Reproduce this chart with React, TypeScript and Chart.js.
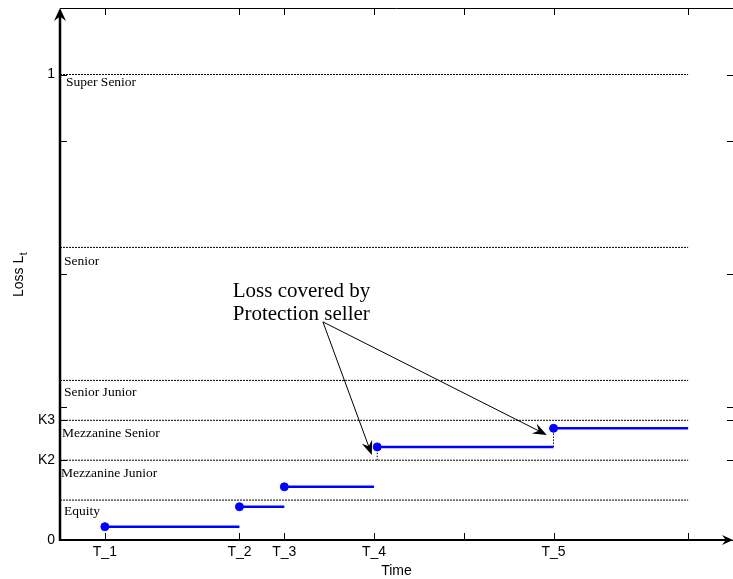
import React, { useEffect, useRef } from 'react';
import { Chart, registerables } from 'chart.js';

Chart.register(...registerables);

// ---------------- data ----------------
const timeTicks = [1, 4, 5, 7, 9, 11, 14];
const timeTickLabels = ['T_1', 'T_2', 'T_3', 'T_4', '', 'T_5', ''];
const lossTicks = [0, 0.6, 0.9, 1, 2, 3, 3.5];
const lossTickLabels = ['0', 'K2', 'K3', '', '', '', '1'];

const trancheNames = ['Super Senior', 'Senior', 'Senior Junior', 'Mezzanine Senior', 'Mezzanine Junior', 'Equity'];
const trancheUpper = [3.5, 2.2, 1.2, 0.9, 0.6, 0.3];
const trancheLineEnd = 14;

const stepStart = [1, 4, 5, 7.07, 11];
const stepEnd = [4, 5, 7, 11, 14];
const stepLoss = [0.1, 0.25, 0.4, 0.7, 0.84];

const jumpTime = [7.07, 11];
const jumpLow = [0.6, 0.7];
const jumpHigh = [0.7, 0.84];

const calloutLines = ['Loss covered by', 'Protection seller'];
const calloutAt = [3.85, 1.83];
const arrowTail = [5.86, 1.64];
const arrowTipX = [6.95, 10.85];
const arrowTipY = [0.64, 0.79];

const xRange = [0, 15];
const yRange = [0, 4];

// ---------------- styles ----------------
const SANS = '"Liberation Sans", Arial, sans-serif';
const SERIF = '"Liberation Serif", "Times New Roman", serif';
const BLUE = '#0000ff';
const trancheLabelDx = [6, 4, 4, 2, 1, 4];
const trancheLabelDy = [8, 14, 12.5, 13, 13, 11];

function arrowHead(ctx: CanvasRenderingContext2D, tx: number, ty: number, ux: number, uy: number, len: number, wid: number) {
  const nx = -uy, ny = ux;
  const bx = tx - ux * len, by = ty - uy * len;
  ctx.beginPath();
  ctx.moveTo(tx, ty);
  ctx.lineTo(bx + nx * wid / 2, by + ny * wid / 2);
  ctx.lineTo(tx - ux * len * 0.65, ty - uy * len * 0.65);
  ctx.lineTo(bx - nx * wid / 2, by - ny * wid / 2);
  ctx.closePath();
  ctx.fill();
}

const overlayPlugin = {
  id: 'overlay',
  afterDraw(chart: any) {
    const { ctx, chartArea: ca, scales } = chart;
    const xs = scales.x, ys = scales.y;
    ctx.save();
    ctx.strokeStyle = '#000';
    ctx.fillStyle = '#000';
    ctx.setLineDash([]);

    // top border
    ctx.lineWidth = 1;
    ctx.beginPath();
    ctx.moveTo(ca.left, ca.top + 0.5);
    ctx.lineTo(ca.right, ca.top + 0.5);
    ctx.stroke();

    // ticks (inward) on all sides
    ctx.lineWidth = 1;
    for (const v of timeTicks) {
      const px = Math.round(xs.getPixelForValue(v)) + 0.5;
      ctx.beginPath();
      ctx.moveTo(px, ca.bottom);
      ctx.lineTo(px, ca.bottom - 7);
      ctx.moveTo(px, ca.top);
      ctx.lineTo(px, ca.top + 7);
      ctx.stroke();
    }
    for (const v of lossTicks) {
      const py = Math.round(ys.getPixelForValue(v)) + 0.5;
      ctx.beginPath();
      ctx.moveTo(ca.left, py);
      ctx.lineTo(ca.left + 7, py);
      ctx.moveTo(ca.right, py);
      ctx.lineTo(ca.right - 6, py);
      ctx.stroke();
    }

    // left axis with arrow
    ctx.lineWidth = 2.5;
    ctx.beginPath();
    ctx.moveTo(ca.left, ca.bottom + 1);
    ctx.lineTo(ca.left, ca.top + 8);
    ctx.stroke();
    arrowHead(ctx, ca.left, ca.top, 0, -1, 13, 12);

    // bottom axis with arrow
    ctx.lineWidth = 2;
    ctx.beginPath();
    ctx.moveTo(ca.left, ca.bottom);
    ctx.lineTo(ca.right - 6, ca.bottom);
    ctx.stroke();
    arrowHead(ctx, ca.right, ca.bottom, 1, 0, 11, 10);

    // tranche labels
    ctx.font = `13.5px ${SERIF}`;
    ctx.textAlign = 'left';
    ctx.textBaseline = 'middle';
    trancheNames.forEach((name, i) => {
      const py = ys.getPixelForValue(trancheUpper[i]);
      ctx.fillText(name, ca.left + trancheLabelDx[i], py + trancheLabelDy[i]);
    });

    // callout text
    ctx.font = `21px ${SERIF}`;
    ctx.textBaseline = 'alphabetic';
    const cx = xs.getPixelForValue(calloutAt[0]);
    const cy = ys.getPixelForValue(calloutAt[1]);
    calloutLines.forEach((t, i) => ctx.fillText(t, cx, cy + i * 23));

    // arrows
    const tx = xs.getPixelForValue(arrowTail[0]);
    const ty = ys.getPixelForValue(arrowTail[1]);
    ctx.lineWidth = 1;
    arrowTipX.forEach((ax, i) => {
      const hx = xs.getPixelForValue(ax);
      const hy = ys.getPixelForValue(arrowTipY[i]);
      const dx = hx - tx, dy = hy - ty;
      const d = Math.hypot(dx, dy);
      const ux = dx / d, uy = dy / d;
      ctx.beginPath();
      ctx.moveTo(tx, ty);
      ctx.lineTo(hx - ux * 6, hy - uy * 6);
      ctx.stroke();
      arrowHead(ctx, hx, hy, ux, uy, 14, 11);
    });

    // y axis title with subscript
    ctx.save();
    ctx.translate(23, 297);
    ctx.rotate(-Math.PI / 2);
    ctx.font = `14px ${SANS}`;
    ctx.textAlign = 'left';
    ctx.textBaseline = 'alphabetic';
    ctx.fillText('Loss L', 0, 0);
    const w = ctx.measureText('Loss L').width;
    ctx.font = `10px ${SANS}`;
    ctx.fillText('t', w + 0.5, 4);
    ctx.restore();

    ctx.restore();
  },
};

export default function App() {
  const canvasRef = useRef<HTMLCanvasElement | null>(null);

  useEffect(() => {
    const canvas = canvasRef.current;
    if (!canvas) return;

    const stepData: any[] = [];
    const stepRadius: number[] = [];
    stepStart.forEach((s, i) => {
      stepData.push({ x: s, y: stepLoss[i] });
      stepRadius.push(4);
      stepData.push({ x: stepEnd[i], y: stepLoss[i] });
      stepRadius.push(0);
      stepData.push({ x: stepEnd[i], y: null });
      stepRadius.push(0);
    });

    const datasets: any[] = [
      {
        label: 'Loss',
        data: stepData,
        showLine: true,
        spanGaps: false,
        borderColor: BLUE,
        backgroundColor: BLUE,
        borderWidth: 2.5,
        pointRadius: stepRadius,
        pointHoverRadius: stepRadius,
        pointBackgroundColor: BLUE,
        pointBorderColor: BLUE,
        pointBorderWidth: 1,
      },
    ];
    jumpTime.forEach((t, i) => {
      datasets.push({
        label: 'jump' + i,
        data: [{ x: t, y: jumpLow[i] }, { x: t, y: jumpHigh[i] }],
        showLine: true,
        borderColor: '#000',
        borderWidth: 1,
        borderDash: [1.5, 1.5],
        pointRadius: 0,
      });
    });
    trancheUpper.forEach((v, i) => {
      datasets.push({
        label: trancheNames[i],
        data: [{ x: xRange[0], y: v }, { x: trancheLineEnd, y: v }],
        showLine: true,
        borderColor: '#000',
        borderWidth: 1,
        borderDash: [2, 1],
        pointRadius: 0,
      });
    });

    const chart = new Chart(canvas, {
      type: 'scatter',
      data: { datasets },
      options: {
        responsive: false,
        animation: false,
        devicePixelRatio: 1,
        layout: { autoPadding: false, padding: { top: 8, left: 0, right: 0, bottom: 0 } },
        plugins: { legend: { display: false }, tooltip: { enabled: false } },
        events: [],
        scales: {
          x: {
            type: 'linear',
            min: xRange[0],
            max: xRange[1],
            grid: { display: false, drawTicks: false },
            border: { display: false },
            afterBuildTicks: (scale: any) => {
              scale.ticks = timeTicks.map((v) => ({ value: v }));
            },
            afterFit: (scale: any) => {
              scale.height = 39;
              scale.paddingLeft = 0;
              scale.paddingRight = 0;
            },
            ticks: {
              autoSkip: false,
              maxRotation: 0,
              padding: 4,
              color: '#000',
              font: { family: SANS, size: 14 },
              callback: (value: any) => {
                const i = timeTicks.indexOf(Number(value));
                return i >= 0 ? timeTickLabels[i] : '';
              },
            },
            title: {
              display: true,
              text: 'Time',
              color: '#000',
              font: { family: SANS, size: 14 },
              padding: { top: 0, bottom: -1 },
            },
          },
          y: {
            type: 'linear',
            min: yRange[0],
            max: yRange[1],
            grid: { display: false, drawTicks: false },
            border: { display: false },
            afterBuildTicks: (scale: any) => {
              scale.ticks = lossTicks.map((v) => ({ value: v }));
            },
            afterFit: (scale: any) => {
              scale.width = 60;
              scale.paddingTop = 0;
              scale.paddingBottom = 0;
            },
            ticks: {
              autoSkip: false,
              padding: 5,
              color: '#000',
              font: { family: SANS, size: 14 },
              callback: (value: any) => {
                const i = lossTicks.indexOf(Number(value));
                return i >= 0 ? lossTickLabels[i] : '';
              },
            },
          },
        },
      },
      plugins: [overlayPlugin],
    } as any);

    return () => chart.destroy();
  }, []);

  return (
    <div style={{ position: 'absolute', left: 0, top: 0, width: 733, height: 579, background: '#fff' }}>
      <canvas ref={canvasRef} width={733} height={579} style={{ display: 'block' }} />
    </div>
  );
}
